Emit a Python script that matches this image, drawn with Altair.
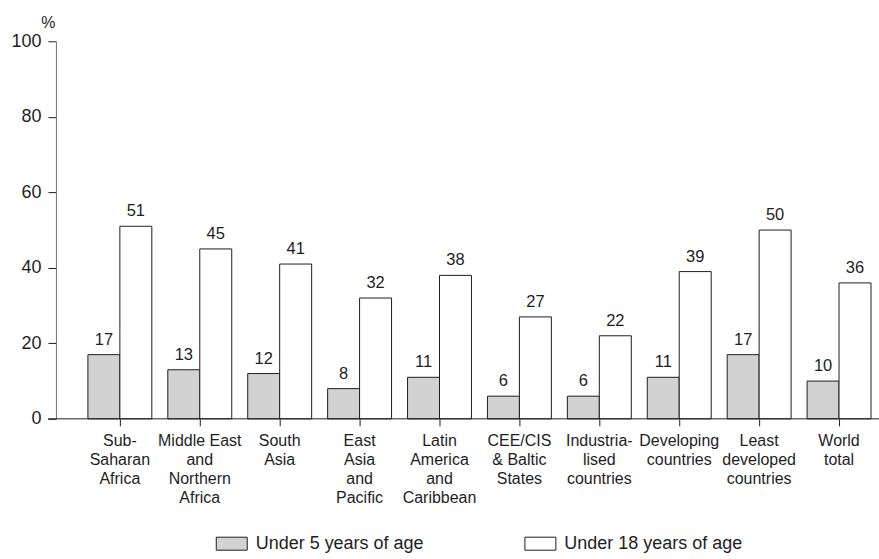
import altair as alt
import pandas as pd

# Regions, with "|" marking the line breaks of each axis label
regions = [
    "Sub-|Saharan|Africa",
    "Middle East|and|Northern|Africa",
    "South|Asia",
    "East|Asia|and|Pacific",
    "Latin|America|and|Caribbean",
    "CEE/CIS|& Baltic|States",
    "Industria-|lised|countries",
    "Developing|countries",
    "Least|developed|countries",
    "World|total",
]
under5 = [17, 13, 12, 8, 11, 6, 6, 11, 17, 10]
under18 = [51, 45, 41, 32, 38, 27, 22, 39, 50, 36]
series = ["Under 5 years of age", "Under 18 years of age"]
y_ticks = [0, 20, 40, 60, 80, 100]

rows = []
for r, a, b in zip(regions, under5, under18):
    rows.append({"region": r, "series": series[0], "value": a})
    rows.append({"region": r, "series": series[1], "value": b})
df = pd.DataFrame(rows)

FONT = "Liberation Sans"
INK = "#1e1e1e"

base = alt.Chart(df).encode(
    x=alt.X(
        "region:N",
        sort=regions,
        scale=alt.Scale(paddingInner=0.2, paddingOuter=0.1),
        axis=alt.Axis(
            title=None,
            labelAngle=0,
            domain=False,
            tickSize=7,
            tickColor=INK,
            labelPadding=7,
            labelBaseline="top",
            labelFontSize=16,
            labelLineHeight=19,
            labelColor=INK,
            labelExpr="split(datum.label, '|')",
        ),
    ),
    xOffset=alt.XOffset(
        "series:N", sort=series, scale=alt.Scale(paddingInner=0, paddingOuter=0)
    ),
    y=alt.Y(
        "value:Q",
        scale=alt.Scale(domain=[0, 100]),
        axis=alt.Axis(
            values=y_ticks,
            grid=False,
            offset=24,
            tickSize=8,
            tickColor=INK,
            domainColor="#6e6e6e",
            labelFontSize=18,
            labelPadding=7,
            labelColor=INK,
            title="%",
            titleAngle=0,
            titleX=-8,
            titleY=-19,
            titleAlign="center",
            titleBaseline="middle",
            titleFontSize=16,
            titleFontWeight="normal",
            titleColor=INK,
        ),
    ),
)

bars = base.mark_bar(stroke=INK, strokeWidth=1).encode(
    fill=alt.Fill(
        "series:N",
        sort=series,
        scale=alt.Scale(domain=series, range=["#d2d2d2", "#ffffff"]),
        legend=alt.Legend(
            title=None,
            orient="none",
            legendX=136,
            legendY=487,
            direction="horizontal",
            symbolType="M-1,-0.42H1V0.42H-1Z",
            symbolSize=961,
            symbolStrokeColor=INK,
            symbolStrokeWidth=1,
            labelFontSize=18,
            labelColor=INK,
            labelLimit=400,
            labelOffset=8,
            columnPadding=98,
            padding=0,
        ),
    )
)

labels = base.mark_text(
    baseline="bottom", dy=-7, fontSize=16.5, font=FONT, color=INK
).encode(text="value:Q")

# Baseline along zero, running from the tick marks of the value axis to the right edge
baseline = alt.Chart(pd.DataFrame({"v": [0]})).mark_rule(
    color=INK, strokeWidth=1
).encode(y=alt.datum(0), x=alt.value(-32), x2=alt.value(800))

chart = (
    alt.layer(bars, labels, baseline)
    .properties(
        width=800,
        height=378,
        autosize=alt.AutoSizeParams(type="none"),
        padding={"left": 80, "top": 41, "right": 0, "bottom": 140},
    )
    .configure(font=FONT)
    .configure_view(stroke=None)
)

chart.save("out.html", embed_options={"renderer": "svg", "actions": False})
